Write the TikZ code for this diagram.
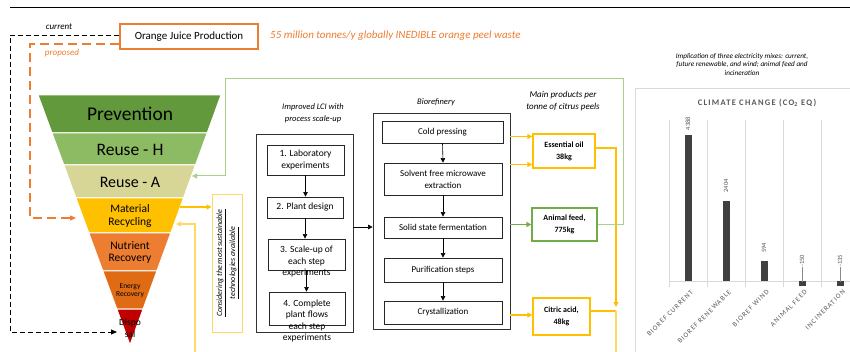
\documentclass[tikz,border=0pt]{standalone}
\usepackage{fontspec}
\setmainfont{Carlito}
\newfontfamily\chartfont[LetterSpace=15]{Carlito}
\usetikzlibrary{arrows.meta}
\definecolor{jorange}{HTML}{ED7D31}
\definecolor{jyellow}{HTML}{FFC000}
\definecolor{lyellow}{HTML}{FFD966}
\definecolor{jgreen}{HTML}{70AD47}
\definecolor{lgreen}{HTML}{A9D18E}
\definecolor{prevc}{HTML}{63993D}
\definecolor{reuhc}{HTML}{8DBB64}
\definecolor{reuac}{HTML}{D7D696}
\definecolor{matc}{HTML}{FFC000}
\definecolor{nutc}{HTML}{ED7D31}
\definecolor{enec}{HTML}{E06B15}
\definecolor{disc}{HTML}{C00000}
\definecolor{gridc}{HTML}{D9D9D9}
\definecolor{labc}{HTML}{595959}
\definecolor{barc}{HTML}{404040}
\tikzset{
  band/.style={draw=white, line width=1pt},
  bandtxt/.style={align=center, inner sep=0pt, text=black},
  box/.style={draw=black!85, line width=0.8pt, fill=white, inner sep=0pt},
  boxtxt/.style={align=center, inner sep=0pt, font=\fontsize{9.5}{11.5}\selectfont},
  ttl/.style={align=center, inner sep=0pt, font=\fontsize{8.5}{12}\selectfont\itshape},
  prod/.style={draw=jyellow, line width=1.2pt, fill=white, align=center, inner sep=0pt, font=\fontsize{8}{12}\selectfont\bfseries},
  arr/.style={-{Triangle[length=4.5pt,width=4.5pt]}, line width=0.6pt},
  yarr/.style={draw=jyellow, line width=1.2pt, -{Triangle[length=5pt,width=5pt]}},
  garr/.style={draw=jgreen, line width=1.2pt, -{Triangle[length=5pt,width=5pt]}},
  bdash/.style={draw=black, line width=0.9pt, dash pattern=on 5pt off 3pt, -{Triangle[length=6pt,width=5pt]}},
  odash/.style={draw=jorange, line width=1.4pt, dash pattern=on 9pt off 5pt, -{Triangle[length=6pt,width=5pt]}},
  grid/.style={draw=gridc, line width=0.7pt},
  constyle/.style={rotate=90, inner sep=0pt, font=\fontsize{8}{10}\selectfont\itshape},
  vlab/.style={rotate=90, inner sep=0pt, text=labc, font=\fontsize{6.5}{7.5}\selectfont},
  clab/.style={rotate=45, anchor=east, inner sep=0pt, text=labc, font=\chartfont\fontsize{7}{8}\selectfont}
}
\begin{document}
\begin{tikzpicture}[x=1pt,y=-1pt]
\useasboundingbox (0,0) rectangle (850,352);
\fill[white] (0,0) rectangle (850,352);
\draw[line width=1pt] (10,8) -- (850,8);

% ---------- waste hierarchy triangle ----------
\filldraw[band, fill=prevc] (38,95) -- (221,95) -- (207.2,133) -- (52,133) -- cycle;
\filldraw[band, fill=reuhc] (52,133) -- (207.2,133) -- (195.5,165) -- (63.8,165) -- cycle;
\filldraw[band, fill=reuac] (63.8,165) -- (195.5,165) -- (183.5,198) -- (75.9,198) -- cycle;
\filldraw[band, fill=matc] (75.9,198) -- (183.5,198) -- (170.8,233) -- (88.8,233) -- cycle;
\filldraw[band, fill=nutc] (88.8,233) -- (170.8,233) -- (156.9,271) -- (102.8,271) -- cycle;
\filldraw[band, fill=enec] (102.8,271) -- (156.9,271) -- (143.1,309) -- (116.8,309) -- cycle;
\filldraw[band, fill=disc] (116.8,309) -- (143.1,309) -- (130,345) -- cycle;

\node[bandtxt, font=\fontsize{19.5}{22}\selectfont] (tprev) at (130,114) {Prevention};
\node[bandtxt, font=\fontsize{17.5}{20}\selectfont] (treuh) at (130,150) {Reuse - H};
\node[bandtxt, font=\fontsize{16}{18}\selectfont] (treua) at (130,182) {Reuse - A};
\node[bandtxt, font=\fontsize{11.5}{13.5}\selectfont] (tmat) at (130,216) {Material\\Recycling};
\node[bandtxt, font=\fontsize{11.5}{12.5}\selectfont] (tnut) at (130,252.5) {Nutrient\\Recovery};
\node[bandtxt, font=\fontsize{7.5}{8.5}\selectfont] (tene) at (130,290.5) {Energy\\Recovery};
\node[bandtxt, font=\fontsize{9.5}{12.5}\selectfont] (tdis) at (130,328.5) {Dispo\\sal};

\coordinate (dispin) at (117,332);
\coordinate (bl) at (10,332);
\coordinate (matin) at (76,218);
\coordinate (ol) at (30,218);
\coordinate (reuain) at (192,176);
\coordinate (matout) at (180,207);
\coordinate (matin2) at (176,224);
\coordinate (ybot) at (195,352);

% ---------- top ----------
\node[draw=jorange, line width=2pt, minimum width=138pt, minimum height=25pt, inner sep=0pt,
      font=\fontsize{11}{13}\selectfont] (ojp) at (189,36.5) {Orange Juice Production};
\node[anchor=west, inner sep=0pt, text=jorange, font=\fontsize{11}{13}\selectfont\itshape]
      (waste) at (270,36) {55 million tonnes/y globally INEDIBLE orange peel waste};
\node[inner sep=0pt, font=\fontsize{9}{11}\selectfont\itshape] (cur) at (59,27) {current};
\node[inner sep=0pt, text=jorange, font=\fontsize{9}{11}\selectfont\itshape] (prop) at (62,53) {proposed};

\draw[bdash] ([yshift=1.5pt]ojp.west) -| (bl) -- (dispin);
\draw[odash] ([yshift=-7.5pt]ojp.west) -| (ol) -- (matin);

% ---------- considering box ----------
\node[draw=lyellow, line width=1pt, minimum width=30pt, minimum height=137pt, inner sep=0pt] (cons) at (227,263.5) {};
\node[constyle] (cons1) at (221,263) {\underline{Considering the most sustainable}};
\node[constyle] (cons2) at (234,263) {\underline{technologies available}};
\draw[yarr] (matout) -- (matout -| cons.west);
\draw[draw=lyellow, line width=1.2pt, -{Triangle[length=5pt,width=5pt]}] (ybot) |- (matin2);

% ---------- LCI ----------
\node[ttl] (lcit) at (313,113.5) {Improved LCI with\\process scale-up};
\node[box, draw=black!80, minimum width=97pt, minimum height=198pt] (lci) at (304.5,233) {};
\node[box, minimum width=77pt, minimum height=30pt] (s1) at (305.5,160) {};
\node[boxtxt] (s1t) at (s1.center) {1. Laboratory\\experiments};
\node[box, minimum width=76pt, minimum height=21pt] (s2) at (305,207.5) {};
\node[boxtxt] (s2t) at (s2.center) {2. Plant design};
\node[box, minimum width=77pt, minimum height=31pt] (s3) at (306.5,254.5) {};
\node[box, minimum width=76pt, minimum height=33pt] (s4) at (307,308.5) {};
\draw[arr] (s1.south) -- (s1.south |- s2.north);
\draw[arr] (s2.south) -- (s2.south |- s3.north);
\draw[arr] (s3.south) -- (s3.south |- s4.north);
\node[boxtxt] (s3t) at ([yshift=-7pt]s3.center) {3. Scale-up of\\each step\\experiments};
\node[boxtxt] (s4t) at ([yshift=-12.5pt]s4.center) {4. Complete\\plant flows\\each step\\experiments};

% ---------- Biorefinery ----------
\node[ttl] (biot) at (436,102) {Biorefinery};
\node[box, draw=black!80, minimum width=137pt, minimum height=216pt] (bio) at (441.5,221) {};
\draw[arr] ([yshift=6pt]lci.east) -- ([yshift=6pt]lci.east -| bio.west);
\node[box, minimum width=121pt, minimum height=22pt, font=\fontsize{9}{11}\selectfont] (cp) at (442.5,132) {Cold pressing};
\node[box, minimum width=118pt, minimum height=32pt, align=center, font=\fontsize{9}{12}\selectfont] (sf) at (443,179) {Solvent free microwave\\extraction};
\node[box, minimum width=118pt, minimum height=21pt, font=\fontsize{9}{11}\selectfont] (ssf) at (443,227.5) {Solid state fermentation};
\node[box, minimum width=118pt, minimum height=24pt, font=\fontsize{9}{11}\selectfont] (pur) at (443,270) {Purification steps};
\node[box, minimum width=118pt, minimum height=23pt, font=\fontsize{9}{11}\selectfont] (cry) at (443,312.5) {Crystallization};
\draw[arr] (cp.south) -- (sf.north);
\draw[arr] (sf.south) -- (ssf.north);
\draw[arr] (ssf.south) -- (pur.north);
\draw[arr] (pur.south) -- (cry.north);

% ---------- products ----------
\node[ttl, font=\fontsize{9}{12}\selectfont\itshape] (prodt) at (563,101) {Main products per\\tonne of citrus peels};
\node[prod, minimum width=62pt, minimum height=34pt] (eo) at (564,151) {Essential oil\\38kg};
\node[prod, draw=jgreen, minimum width=65pt, minimum height=33pt] (af) at (564.5,224.5) {Animal feed,\\775kg};
\node[prod, minimum width=57pt, minimum height=37pt] (ca) at (561.5,316.5) {Citric acid,\\48kg};
\draw[yarr] (bio.east |- 0,136.5) -- (eo.west |- 0,136.5);
\draw[yarr] (bio.east |- 0,164.5) -- (eo.west |- 0,164.5);
\draw[garr] (bio.east |- af.west) -- (af.west);
\draw[yarr] (bio.east |- 0,315) -- (ca.west |- 0,315);

\coordinate (j1) at (616,311);
\coordinate (cbot) at (616,352);
\coordinate (gtr) at (623,79);
\coordinate (gtl) at (225,79);
\draw[yarr] ([yshift=3pt]eo.east) -| ([yshift=4pt]j1);
\draw[draw=jyellow, line width=1.2pt] ([yshift=5.5pt]ca.east) -- (j1);
\draw[draw=lyellow, line width=1.2pt] (j1) -- (cbot);
\draw[draw=lgreen, line width=1pt, -{Triangle[length=5pt,width=5pt]}]
   (af.east) -| (gtr) -- (gtl) |- (reuain);

% ---------- chart ----------
\node[align=center, inner sep=0pt, font=\fontsize{7.2}{8.5}\selectfont\itshape] (chartdesc) at (742,64.5)
  {Implication of three electricity mixes: current,\\future renewable, and wind; animal feed and\\incineration};
\draw[grid] (635,352) -- (635,88) -- (850,88);
\node[inner sep=0pt, text=labc, font=\chartfont\bfseries\fontsize{8.5}{10}\selectfont] (ctitle) at (757,103) {CLIMATE CHANGE (CO\textsubscript{2} EQ)};
\foreach \gx in {669,707,745,783,821} { \draw[grid] (\gx,120) -- (\gx,287); }
\draw[grid] (669,281) -- (850,281);
\fill[barc] (684.5,135) rectangle (691.5,281);
\fill[barc] (722.5,201) rectangle (729.5,281);
\fill[barc] (760.5,261.2) rectangle (767.5,281);
\fill[barc] (798.5,281) rectangle (805.5,286);
\fill[barc] (836.5,281) rectangle (843.5,285.5);
\node[vlab] (v1) at (688,123.5) {4388};
\node[vlab] (v2) at (726,186) {2404};
\node[vlab] (v3) at (764,248) {594};
\node[vlab] (v4) at (802,261) {-150};
\node[vlab] (v5) at (840,261) {-135};
\draw[draw=labc!70, line width=0.5pt] (v4.west) -- (802,282);
\draw[draw=labc!70, line width=0.5pt] (v5.west) -- (840,282);
\node[clab] (c1) at (692,291) {BIOREF CURRENT};
\node[clab] (c2) at (730,291) {BIOREF RENEWABLE};
\node[clab] (c3) at (768,291) {BIOREF WIND};
\node[clab] (c4) at (806,291) {ANIMAL FEED};
\node[clab] (c5) at (844,291) {INCINERATION};
\end{tikzpicture}
\end{document}
